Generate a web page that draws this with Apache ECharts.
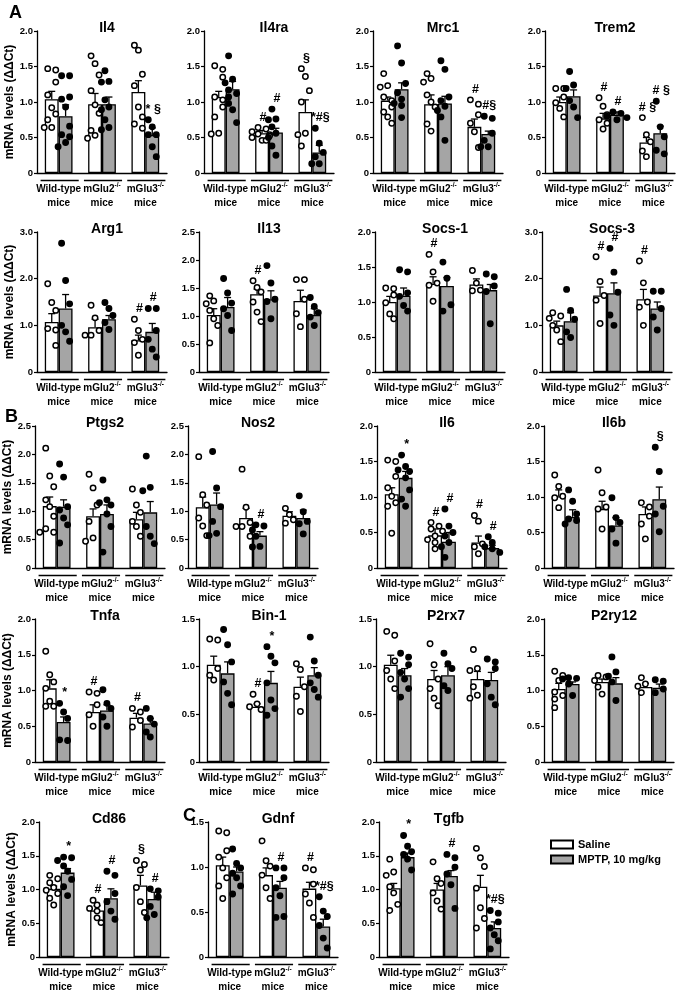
<!DOCTYPE html>
<html>
<head>
<meta charset="utf-8">
<script src="https://cdn.jsdelivr.net/npm/echarts@6/dist/echarts.min.js"></script>
<style>
html, body { margin: 0; padding: 0; background: #fff; }
#chart { width: 678px; height: 994px; }
</style>
</head>
<body>
<div id="chart"></div>
<script>
var genotypes = ['Wild-type', 'mGlu2', 'mGlu3'];
var treatments = ['Saline', 'MPTP, 10 mg/kg'];

// mean / sem per genotype: [saline, MPTP]; points per genotype; significance marks
var il4Mean = [[1.04, 0.80], [0.97, 0.97], [1.14, 0.535]];
var il4Sem = [[0.11, 0.16], [0.15, 0.10], [0.16, 0.10]];
var il4Sal = [[1.45, 1.47, 1.28, 1.10, 0.92, 0.83, 0.75, 0.64, 0.64], [1.65, 1.54, 1.38, 1.16, 0.96, 0.84, 0.60, 0.53, 0.49], [1.80, 1.73, 1.39, 1.23, 0.93, 0.79, 0.69, 0.63]];
var il4Mptp = [[1.37, 1.37, 1.07, 1.04, 0.93, 0.66, 0.54, 0.51, 0.43, 0.37], [1.44, 1.29, 1.28, 1.03, 0.93, 0.89, 0.75, 0.64, 0.61], [0.75, 0.65, 0.54, 0.54, 0.37, 0.23]];
var il4Sig = [['', ''], ['', ''], ['', '* §']];

var il4raMean = [[1.07, 1.18], [0.56, 0.57], [0.86, 0.29]];
var il4raSem = [[0.08, 0.11], [0.04, 0.06], [0.17, 0.10]];
var il4raSal = [[1.51, 1.46, 1.35, 1.07, 1.03, 0.93, 0.79, 0.56, 0.55], [0.64, 0.62, 0.58, 0.55, 0.54, 0.52, 0.50, 0.46, 0.46], [1.47, 1.36, 1.16, 1.00, 0.56, 0.54, 0.38]];
var il4raMptp = [[1.65, 1.32, 1.27, 1.17, 1.12, 1.07, 0.98, 0.89, 0.71], [0.90, 0.76, 0.75, 0.65, 0.56, 0.50, 0.38, 0.25], [0.63, 0.42, 0.29, 0.23, 0.13, 0.13]];
var il4raSig = [['', ''], ['#', '#'], ['§', '*#§']];

var mrc1Mean = [[1.02, 1.18], [0.97, 0.98], [0.65, 0.55]];
var mrc1Sem = [[0.05, 0.09], [0.13, 0.10], [0.11, 0.04]];
var mrc1Sal = [[1.40, 1.23, 1.21, 1.07, 1.02, 0.93, 0.86, 0.79, 0.70], [1.40, 1.33, 1.28, 1.10, 1.00, 0.93, 0.69, 0.59], [1.03, 0.97, 0.82, 0.70, 0.58, 0.36]];
var mrc1Mptp = [[1.79, 1.55, 1.26, 1.13, 1.04, 0.98, 0.95, 0.78], [1.58, 1.46, 1.07, 1.02, 0.94, 0.88, 0.79, 0.46], [0.80, 0.77, 0.56, 0.46, 0.37, 0.37]];
var mrc1Sig = [['', ''], ['', ''], ['#', '#§']];

var trem2Mean = [[1.00, 1.08], [0.77, 0.82], [0.43, 0.56]];
var trem2Sem = [[0.07, 0.09], [0.07, 0.04], [0.07, 0.10]];
var trem2Sal = [[1.19, 1.19, 1.07, 0.99, 0.91, 0.79], [1.06, 0.94, 0.82, 0.75, 0.70, 0.62], [0.78, 0.54, 0.44, 0.31, 0.23]];
var trem2Mptp = [[1.43, 1.24, 1.19, 1.02, 0.93, 0.78], [0.86, 0.84, 0.80, 0.78, 0.75], [1.01, 0.65, 0.51, 0.32, 0.27]];
var trem2Sig = [['', ''], ['#', '#'], ['# §', '# §']];

var arg1Mean = [[1.07, 1.36], [0.96, 1.13], [0.68, 0.86]];
var arg1Sem = [[0.18, 0.30], [0.17, 0.08], [0.11, 0.18]];
var arg1Sal = [[1.89, 1.49, 1.32, 0.93, 0.90, 0.57], [1.43, 1.16, 0.89, 0.79, 0.79], [1.13, 0.89, 0.70, 0.63, 0.36]];
var arg1Mptp = [[2.76, 1.96, 1.46, 1.00, 0.86, 0.66], [1.49, 1.36, 1.21, 1.06, 0.91], [1.36, 1.36, 0.89, 0.70, 0.49, 0.32]];
var arg1Sig = [['', ''], ['', ''], ['#', '#']];

var il13Mean = [[1.02, 1.16], [1.39, 1.30], [1.27, 1.02]];
var il13Sem = [[0.11, 0.17], [0.09, 0.15], [0.19, 0.11]];
var il13Sal = [[1.36, 1.27, 1.22, 1.10, 0.95, 0.83, 0.52], [1.63, 1.51, 1.43, 1.25, 1.07, 0.90], [1.65, 1.65, 1.30, 1.04, 0.81]];
var il13Mptp = [[1.67, 1.41, 1.23, 1.13, 1.01, 0.74], [1.90, 1.59, 1.30, 1.26, 0.95], [1.33, 1.17, 1.06, 0.98, 0.83]];
var il13Sig = [['', ''], ['#', ''], ['', '']];

var socs1Mean = [[1.00, 1.09], [1.26, 1.23], [1.25, 1.17]];
var socs1Sem = [[0.08, 0.11], [0.10, 0.12], [0.08, 0.08]];
var socs1Sal = [[1.20, 1.19, 1.10, 0.99, 0.83, 0.76], [1.68, 1.43, 1.27, 1.24, 1.01], [1.45, 1.27, 1.17, 1.16]];
var socs1Mptp = [[1.46, 1.43, 1.13, 1.08, 0.95, 0.87], [1.57, 1.34, 0.96, 0.87], [1.40, 1.36, 1.23, 1.15, 0.69]];
var socs1Sig = [['', ''], ['#', ''], ['', '']];

var socs3Mean = [[1.00, 1.09], [1.64, 1.69], [1.56, 1.36]];
var socs3Sem = [[0.09, 0.18], [0.18, 0.22], [0.21, 0.14]];
var socs3Sal = [[1.27, 1.20, 1.15, 1.00, 0.90, 0.65], [2.47, 1.94, 1.64, 1.54, 1.04], [2.38, 1.91, 1.50, 1.39, 1.00]];
var socs3Mptp = [[1.77, 1.32, 1.13, 0.86, 0.74], [2.65, 2.14, 1.71, 1.22, 1.00], [1.73, 1.73, 1.36, 1.18, 0.90]];
var socs3Sig = [['', ''], ['#', '#'], ['#', '']];

var ptgs2Mean = [[1.09, 1.08], [0.91, 0.95], [0.86, 0.98]];
var ptgs2Sem = [[0.16, 0.12], [0.13, 0.16], [0.12, 0.19]];
var ptgs2Sal = [[2.11, 1.62, 1.43, 1.20, 1.08, 0.91, 0.69, 0.63, 0.63], [1.65, 1.41, 1.11, 0.82, 0.53, 0.47], [1.39, 1.11, 0.98, 0.82, 0.73, 0.56]];
var ptgs2Mptp = [[1.83, 1.60, 1.08, 1.02, 0.88, 0.76, 0.44], [1.55, 1.20, 1.15, 1.11, 0.95, 0.73, 0.28], [1.97, 1.42, 1.36, 0.73, 0.56, 0.43]];
var ptgs2Sig = [['', ''], ['', ''], ['', '']];

var nos2Mean = [[1.07, 1.12], [0.88, 0.57], [0.92, 0.88]];
var nos2Sem = [[0.18, 0.20], [0.17, 0.07], [0.07, 0.14]];
var nos2Sal = [[1.96, 1.29, 1.11, 0.88, 0.74, 0.57], [1.74, 1.07, 0.80, 0.73, 0.73, 0.56], [1.05, 0.94, 0.85, 0.79]];
var nos2Mptp = [[2.05, 1.41, 1.08, 0.82, 0.61, 0.57], [0.76, 0.74, 0.67, 0.56, 0.38, 0.37], [1.27, 0.99, 0.82, 0.78, 0.60]];
var nos2Sig = [['', ''], ['', '#'], ['', '']];

var il6Mean = [[1.04, 1.27], [0.46, 0.37], [0.36, 0.28]];
var il6Sem = [[0.09, 0.09], [0.09, 0.13], [0.09, 0.04]];
var il6Sal = [[1.52, 1.50, 1.29, 1.13, 1.01, 0.92, 0.87, 0.49], [0.64, 0.59, 0.55, 0.52, 0.45, 0.40, 0.36, 0.27], [0.74, 0.66, 0.34, 0.30, 0.20]];
var il6Mptp = [[1.59, 1.43, 1.38, 1.36, 1.27, 1.10, 0.97, 0.87], [0.83, 0.59, 0.50, 0.45, 0.36, 0.30, 0.15], [0.44, 0.36, 0.30, 0.27, 0.22]];
var il6Sig = [['', '*'], ['#', '#'], ['#', '#']];

var il6bMean = [[1.01, 0.72], [0.83, 0.60], [0.76, 0.97]];
var il6bSem = [[0.09, 0.10], [0.11, 0.11], [0.10, 0.17]];
var il6bSal = [[1.31, 1.15, 1.01, 0.99, 0.85], [1.38, 1.06, 0.86, 0.83, 0.55], [0.92, 0.86, 0.73, 0.62, 0.41]];
var il6bMptp = [[1.10, 0.94, 0.76, 0.69, 0.67, 0.62], [0.99, 0.71, 0.64, 0.55, 0.35], [1.70, 1.36, 0.87, 0.76, 0.51]];
var il6bSig = [['', ''], ['', ''], ['', '§']];

var tnfaMean = [[1.03, 0.56], [0.70, 0.72], [0.62, 0.54]];
var tnfaSem = [[0.12, 0.07], [0.10, 0.08], [0.06, 0.07]];
var tnfaSal = [[1.55, 1.22, 1.12, 1.03, 0.85, 0.78, 0.78], [0.98, 0.96, 0.80, 0.66, 0.50], [0.75, 0.70, 0.58, 0.49]];
var tnfaMptp = [[0.82, 0.70, 0.61, 0.31, 0.30], [1.01, 0.82, 0.75, 0.63, 0.50], [0.75, 0.61, 0.53, 0.42, 0.35]];
var tnfaSig = [['', '*'], ['#', ''], ['#', '']];

var bin1Mean = [[1.02, 0.93], [0.58, 0.83], [0.79, 0.91]];
var bin1Sem = [[0.09, 0.12], [0.03, 0.12], [0.10, 0.08]];
var bin1Sal = [[1.29, 1.28, 0.98, 0.91, 0.86], [0.71, 0.61, 0.58, 0.55], [1.03, 0.97, 0.79, 0.69, 0.53]];
var bin1Mptp = [[1.39, 1.23, 1.05, 0.84, 0.72, 0.60], [1.21, 1.11, 1.04, 0.83, 0.65, 0.56, 0.49], [1.31, 1.06, 0.91, 0.83, 0.76, 0.68]];
var bin1Sig = [['', ''], ['#', '*'], ['', '']];

var p2rx7Mean = [[1.02, 0.91], [0.87, 0.91], [0.87, 0.86]];
var p2rx7Sem = [[0.10, 0.07], [0.09, 0.09], [0.08, 0.08]];
var p2rx7Sal = [[1.37, 1.33, 1.06, 0.96, 0.87, 0.77], [1.24, 1.02, 0.87, 0.77, 0.67, 0.59], [1.18, 0.98, 0.96, 0.79, 0.70, 0.67]];
var p2rx7Mptp = [[1.14, 1.10, 1.02, 0.94, 0.87, 0.77, 0.68], [1.14, 1.03, 0.98, 0.80, 0.75], [1.08, 1.05, 0.98, 0.82, 0.68, 0.60]];
var p2rx7Sig = [['', ''], ['', ''], ['', '']];

var p2ry12Mean = [[1.02, 1.09], [1.12, 1.10], [1.05, 1.04]];
var p2ry12Sem = [[0.08, 0.03], [0.04, 0.08], [0.05, 0.05]];
var p2ry12Sal = [[1.27, 1.21, 1.14, 0.98, 0.93, 0.88, 0.76], [1.21, 1.19, 1.14, 1.05, 0.95], [1.18, 1.09, 1.06, 0.97]];
var p2ry12Mptp = [[1.18, 1.17, 1.16, 1.09, 0.93], [1.47, 1.26, 1.20, 1.12, 0.86], [1.15, 1.13, 1.02, 0.97]];
var p2ry12Sig = [['', ''], ['', ''], ['', '']];

var cd86Mean = [[1.01, 1.25], [0.69, 0.87], [1.06, 0.86]];
var cd86Sem = [[0.04, 0.06], [0.07, 0.14], [0.15, 0.10]];
var cd86Sal = [[1.21, 1.16, 1.10, 1.03, 0.99, 0.94, 0.87, 0.77], [0.84, 0.77, 0.72, 0.68, 0.58, 0.51], [1.43, 1.37, 1.29, 1.03, 0.82, 0.66]];
var cd86Mptp = [[1.48, 1.47, 1.43, 1.35, 1.27, 1.15, 1.04, 0.91], [1.27, 1.21, 0.94, 0.82, 0.68, 0.56], [1.01, 0.98, 0.89, 0.75, 0.63, 0.58]];
var cd86Sig = [['', '*'], ['#', '#'], ['§', '#']];

var gdnfMean = [[1.02, 0.95], [0.91, 0.77], [0.76, 0.34]];
var gdnfSem = [[0.09, 0.05], [0.08, 0.07], [0.07, 0.08]];
var gdnfSal = [[1.40, 1.38, 1.18, 1.11, 0.99, 0.88, 0.79, 0.65], [1.29, 1.07, 1.01, 0.91, 0.77, 0.65], [0.99, 0.97, 0.81, 0.70, 0.60, 0.44]];
var gdnfMptp = [[1.20, 1.04, 0.99, 0.93, 0.88, 0.79, 0.70], [0.99, 0.99, 0.88, 0.77, 0.68, 0.45, 0.44], [0.67, 0.51, 0.45, 0.35, 0.21, 0.10]];
var gdnfSig = [['', ''], ['', '#'], ['#', '*#§']];

var tgfbMean = [[1.02, 1.48], [1.00, 1.20], [1.04, 0.43]];
var tgfbSem = [[0.07, 0.06], [0.09, 0.08], [0.17, 0.09]];
var tgfbSal = [[1.45, 1.26, 1.21, 1.04, 0.95, 0.78, 0.69], [1.41, 1.16, 1.09, 0.95, 0.83, 0.71], [1.61, 1.47, 1.34, 1.02, 0.73, 0.57, 0.43]];
var tgfbMptp = [[1.80, 1.64, 1.56, 1.52, 1.45, 1.29], [1.52, 1.47, 1.33, 1.23, 1.07, 0.72], [0.69, 0.65, 0.52, 0.43, 0.33, 0.24, 0.12]];
var tgfbSig = [['', '*'], ['', '#'], ['', '*#§']];

var panels = [
  {name: 'Il4', max: 2, step: 0.5, mean: il4Mean, sem: il4Sem, sal: il4Sal, mptp: il4Mptp, sig: il4Sig},
  {name: 'Il4ra', max: 2, step: 0.5, mean: il4raMean, sem: il4raSem, sal: il4raSal, mptp: il4raMptp, sig: il4raSig},
  {name: 'Mrc1', max: 2, step: 0.5, mean: mrc1Mean, sem: mrc1Sem, sal: mrc1Sal, mptp: mrc1Mptp, sig: mrc1Sig},
  {name: 'Trem2', max: 2, step: 0.5, mean: trem2Mean, sem: trem2Sem, sal: trem2Sal, mptp: trem2Mptp, sig: trem2Sig},
  {name: 'Arg1', max: 3, step: 1, mean: arg1Mean, sem: arg1Sem, sal: arg1Sal, mptp: arg1Mptp, sig: arg1Sig},
  {name: 'Il13', max: 2.5, step: 0.5, mean: il13Mean, sem: il13Sem, sal: il13Sal, mptp: il13Mptp, sig: il13Sig},
  {name: 'Socs-1', max: 2, step: 0.5, mean: socs1Mean, sem: socs1Sem, sal: socs1Sal, mptp: socs1Mptp, sig: socs1Sig},
  {name: 'Socs-3', max: 3, step: 1, mean: socs3Mean, sem: socs3Sem, sal: socs3Sal, mptp: socs3Mptp, sig: socs3Sig},
  {name: 'Ptgs2', max: 2.5, step: 0.5, mean: ptgs2Mean, sem: ptgs2Sem, sal: ptgs2Sal, mptp: ptgs2Mptp, sig: ptgs2Sig},
  {name: 'Nos2', max: 2.5, step: 0.5, mean: nos2Mean, sem: nos2Sem, sal: nos2Sal, mptp: nos2Mptp, sig: nos2Sig},
  {name: 'Il6', max: 2, step: 0.5, mean: il6Mean, sem: il6Sem, sal: il6Sal, mptp: il6Mptp, sig: il6Sig},
  {name: 'Il6b', max: 2, step: 0.5, mean: il6bMean, sem: il6bSem, sal: il6bSal, mptp: il6bMptp, sig: il6bSig},
  {name: 'Tnfa', max: 2, step: 0.5, mean: tnfaMean, sem: tnfaSem, sal: tnfaSal, mptp: tnfaMptp, sig: tnfaSig},
  {name: 'Bin-1', max: 1.5, step: 0.5, mean: bin1Mean, sem: bin1Sem, sal: bin1Sal, mptp: bin1Mptp, sig: bin1Sig},
  {name: 'P2rx7', max: 1.5, step: 0.5, mean: p2rx7Mean, sem: p2rx7Sem, sal: p2rx7Sal, mptp: p2rx7Mptp, sig: p2rx7Sig},
  {name: 'P2ry12', max: 2, step: 0.5, mean: p2ry12Mean, sem: p2ry12Sem, sal: p2ry12Sal, mptp: p2ry12Mptp, sig: p2ry12Sig},
  {name: 'Cd86', max: 2, step: 0.5, mean: cd86Mean, sem: cd86Sem, sal: cd86Sal, mptp: cd86Mptp, sig: cd86Sig},
  {name: 'Gdnf', max: 1.5, step: 0.5, mean: gdnfMean, sem: gdnfSem, sal: gdnfSal, mptp: gdnfMptp, sig: gdnfSig},
  {name: 'Tgfb', max: 2, step: 0.5, mean: tgfbMean, sem: tgfbSem, sal: tgfbSal, mptp: tgfbMptp, sig: tgfbSig}
];

// layout
var rowTop = [31, 232, 426, 619, 822];
var rowH = [142, 140, 142, 143, 141];
var lefts = [37, 204, 373, 545, 37, 199, 375, 542, 35, 188, 377, 544, 35, 199, 376, 544, 39, 208, 379];
var gridW = 130;
var FONT = 'Liberation Sans, Arial, sans-serif';
var HALF = 0.16; // bar offset from category centre, in bands

function swarm(vals, pxPerUnit) {
  var order = vals.map(function (v, i) { return i; }).sort(function (a, b) { return vals[b] - vals[a]; });
  var placed = [], out = [];
  order.forEach(function (i, k) {
    var y = vals[i] * pxPerUnit;
    var pref = ((k % 3) - 1) * 4;
    var cands = [pref, 0, -4, 4, -7.5, 7.5, -10, 10];
    var best = null;
    for (var c = 0; c < cands.length; c++) {
      var ok = placed.every(function (p) {
        return (p.x - cands[c]) * (p.x - cands[c]) + (p.y - y) * (p.y - y) >= 36;
      });
      if (ok) { best = cands[c]; break; }
    }
    if (best === null) best = cands[k % cands.length];
    placed.push({x: best, y: y});
    out[i] = best;
  });
  return out;
}

function barX(api, g, t) {
  var band = api.size([1, 0])[0];
  return api.coord([g, 0])[0] + (t ? 1 : -1) * band * HALF;
}

function errItem(params, api) {
  var g = api.value(0), m = api.value(1), s = api.value(2), t = api.value(3);
  var x = barX(api, g, t);
  var y0 = api.coord([g, m])[1], y1 = api.coord([g, m + s])[1];
  var st = {stroke: '#000', lineWidth: 1.3};
  return {type: 'group', children: [
    {type: 'line', shape: {x1: x, y1: y0, x2: x, y2: y1}, style: st},
    {type: 'line', shape: {x1: x - 3.5, y1: y1, x2: x + 3.5, y2: y1}, style: st}
  ]};
}

function dotItem(params, api) {
  var g = api.value(0), v = api.value(1), t = api.value(2), dx = api.value(3);
  var x = barX(api, g, t) + dx;
  var y = api.coord([g, v])[1];
  return {type: 'circle', shape: {cx: x, cy: y, r: 2.7},
    style: {fill: t ? '#000' : '#fff', stroke: '#000', lineWidth: 1.5}};
}

function underItem(params, api) {
  var g = api.value(0);
  var band = api.size([1, 0])[0];
  var p = api.coord([g, 0]);
  return {type: 'line', shape: {x1: p[0] - band * 0.44 + 1, y1: p[1] + 7.5, x2: p[0] + band * 0.44 + 1, y2: p[1] + 7.5},
    style: {stroke: '#000', lineWidth: 1.3}};
}

function tickFmt(v) { return v === 0 ? '0' : v.toFixed(1); }

var option = {
  animation: false,
  backgroundColor: '#fff',
  textStyle: {fontFamily: FONT},
  title: [
    {text: 'A', left: 4, top: -1, textStyle: {fontSize: 18, fontWeight: 'bold', color: '#000', fontFamily: FONT}},
    {text: 'B', left: 0, top: 403, textStyle: {fontSize: 18, fontWeight: 'bold', color: '#000', fontFamily: FONT}},
    {text: 'C', left: 178, top: 802, textStyle: {fontSize: 18, fontWeight: 'bold', color: '#000', fontFamily: FONT}}
  ],
  legend: {
    data: treatments, orient: 'vertical', left: 545, top: 834, itemWidth: 22, itemHeight: 8, itemGap: 4,
    selectedMode: false, icon: 'rect',
    textStyle: {fontSize: 11, fontWeight: 'bold', color: '#000', fontFamily: FONT}
  },
  grid: [], xAxis: [], yAxis: [], series: []
};

panels.forEach(function (p, i) {
  var row = Math.floor(i / 4), col = i % 4;
  var top = rowTop[row], h = rowH[row], left = lefts[i];
  option.grid.push({left: left, top: top, width: gridW, height: h});
  option.title.push({text: p.name, left: left + gridW / 2, top: top - 15, textAlign: 'center',
    textStyle: {fontSize: 14, fontWeight: 'bold', color: '#000', fontFamily: FONT}});
  option.xAxis.push({
    gridIndex: i, type: 'category', data: genotypes,
    axisLine: {lineStyle: {color: '#000', width: 1.3}},
    axisTick: {show: false},
    axisLabel: {
      interval: 0, margin: 9, color: '#000', fontSize: 10, fontWeight: 'bold', lineHeight: 14, fontFamily: FONT,
      formatter: function (v) { return v === 'Wild-type' ? 'Wild-type\nmice' : v + '{s|-/-}\nmice'; },
      rich: {s: {fontSize: 6.5, fontWeight: 'bold', verticalAlign: 'top', lineHeight: 14, fontFamily: FONT}}
    }
  });
  option.yAxis.push({
    gridIndex: i, type: 'value', min: 0, max: p.max, interval: p.step,
    axisLine: {show: true, lineStyle: {color: '#000', width: 1.3}},
    axisTick: {show: true, length: 3, lineStyle: {color: '#000', width: 1.2}},
    splitLine: {show: false},
    axisLabel: {fontSize: 9.5, fontWeight: 'bold', color: '#000', margin: 4, formatter: tickFmt, fontFamily: FONT},
    name: col === 0 ? 'mRNA levels (ΔΔCt)' : '', nameLocation: 'middle', nameGap: 17,
    nameTextStyle: {fontSize: 12, fontWeight: 'bold', color: '#000', fontFamily: FONT}
  });

  var pxPerUnit = h / p.max;
  [0, 1].forEach(function (t) {
    option.series.push({
      type: 'bar', name: treatments[t], xAxisIndex: i, yAxisIndex: i,
      barWidth: '32%', barGap: '0%', z: 2,
      itemStyle: {color: t ? '#a5a5a5' : '#fff', borderColor: '#000', borderWidth: 1.3},
      data: p.mean.map(function (m) { return m[t]; })
    });
  });

  var errData = [], dotData = [], sigItems = [];
  genotypes.forEach(function (gn, g) {
    [0, 1].forEach(function (t) {
      var pts = t ? p.mptp[g] : p.sal[g];
      errData.push([g, p.mean[g][t], p.sem[g][t], t]);
      var dxs = swarm(pts, pxPerUnit);
      pts.forEach(function (v, k) { dotData.push([g, v, t, dxs[k]]); });
      if (p.sig[g][t]) {
        sigItems.push({g: g, t: t, top: Math.max(Math.max.apply(null, pts), p.mean[g][t] + p.sem[g][t]), text: p.sig[g][t]});
      }
    });
  });

  option.series.push({type: 'custom', xAxisIndex: i, yAxisIndex: i, z: 3, clip: false,
    renderItem: errItem, data: errData});
  option.series.push({type: 'custom', xAxisIndex: i, yAxisIndex: i, z: 4, clip: false,
    renderItem: dotItem, data: dotData});
  option.series.push({type: 'custom', xAxisIndex: i, yAxisIndex: i, z: 4, clip: false,
    renderItem: function (params, api) {
      var s = sigItems[params.dataIndex];
      var x = barX(api, s.g, s.t) + 1;
      var y = api.coord([s.g, s.top])[1] - 4;
      return {type: 'text', x: x, y: y, style: {text: s.text, align: 'center', verticalAlign: 'bottom',
        fontSize: 12.5, fontWeight: 'bold', fontFamily: FONT, fill: '#000'}};
    },
    data: sigItems.map(function (s) { return [s.g, s.top]; })});
  option.series.push({type: 'custom', xAxisIndex: i, yAxisIndex: i, z: 3, clip: false,
    renderItem: underItem, data: [[0, 0], [1, 0], [2, 0]]});
});

var chart = echarts.init(document.getElementById('chart'));
chart.setOption(option);
</script>
</body>
</html>
